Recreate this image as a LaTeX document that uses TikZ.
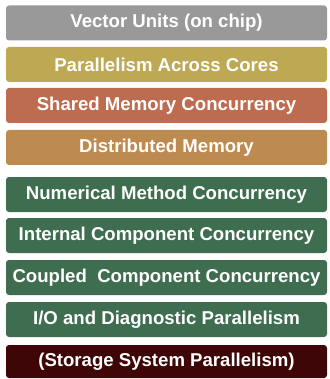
\documentclass[tikz,border=0pt]{standalone}
\usepackage{fontspec}
\setmainfont{Liberation Sans}
\usetikzlibrary{positioning}

\definecolor{vecgrey}{HTML}{999999}
\definecolor{coregold}{HTML}{BDA853}
\definecolor{shmrust}{HTML}{BE6C4F}
\definecolor{distan}{HTML}{BD8A50}
\definecolor{numgreen}{HTML}{3E6D50}
\definecolor{stormaroon}{HTML}{3E0606}

\tikzset{
  layer/.style={rounded corners=3pt, minimum width=321pt, minimum height=35pt,
    inner sep=0pt, text=white, font=\fontsize{18.6}{22}\selectfont\bfseries}
}

\begin{document}
\begin{tikzpicture}[x=1pt,y=1pt]
\useasboundingbox (0,0) rectangle (329,-379);
% hardware levels
\node[layer, fill=vecgrey] (vector) at (166.5,-23) {Vector Units (on chip)};
\node[layer, fill=coregold] (cores) at (166.5,-64.5) {Parallelism Across Cores};
\node[layer, fill=shmrust] (shared) at (166.5,-105.5) {Shared Memory Concurrency};
\node[layer, fill=distan] (distrib) at (166.5,-147.5) {Distributed Memory};
% software levels
\node[layer, fill=numgreen] (numeric) at (166.5,-194.5) {Numerical Method Concurrency};
\node[layer, fill=numgreen] (internal) at (166.5,-235.5) {Internal Component Concurrency};
\node[layer, fill=numgreen] (coupled) at (166.5,-277.5) {Coupled\ \ Component Concurrency};
\node[layer, fill=numgreen] (iodiag) at (166.5,-319.5) {I/O and Diagnostic Parallelism};
% storage
\node[layer, fill=stormaroon, minimum height=33pt] (storage) at (166.5,-361.5) {(Storage System Parallelism)};
\end{tikzpicture}
\end{document}
